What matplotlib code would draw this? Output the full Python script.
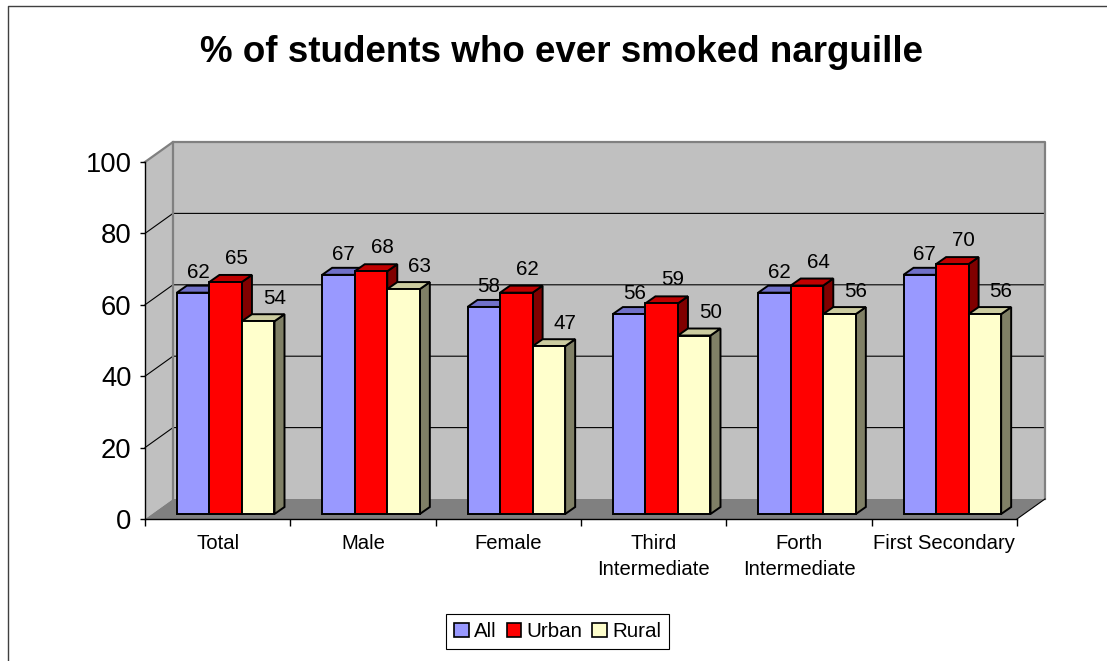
import matplotlib.pyplot as plt
from matplotlib.patches import Polygon, Patch, Rectangle
from matplotlib.lines import Line2D

plt.rcParams['font.family'] = ['Liberation Sans', 'DejaVu Sans']

# data
categories = ['Total', 'Male', 'Female', 'Third\nIntermediate',
              'Forth\nIntermediate', 'First Secondary']
series = ['All', 'Urban', 'Rural']
all_vals = [62, 67, 58, 56, 62, 67]
urban_vals = [65, 68, 62, 59, 64, 70]
rural_vals = [54, 63, 47, 50, 56, 56]
values = [all_vals, urban_vals, rural_vals]

front_c = ['#9999FF', '#FF0000', '#FFFFCC']
top_c = ['#7070C8', '#C00000', '#CCCCA0']
side_c = ['#4D4D80', '#800000', '#808066']

fig = plt.figure(figsize=(11.07, 6.61), dpi=100)
ax = fig.add_axes([145 / 1107, 1 - 519 / 661, 872 / 1107, 357 / 661])
n = len(categories)
ax.set_xlim(0, n)
ax.set_ylim(0, 100)

# pixels per data unit, used to turn the 3d depth into data offsets
ppx = 872 / n
ppy = 357 / 100


def depth(px, py):
    return px / ppx, py / ppy


DX, DY = depth(28, 20)   # walls
OX, OY = depth(8, 5)     # plane the bars stand in
BX, BY = depth(10, 7)    # bar depth

# walls and floor
ax.add_patch(Polygon([(DX, DY), (n + DX, DY), (n + DX, 100 + DY), (DX, 100 + DY)],
                     fc='#C0C0C0', ec='none', zorder=0.5, clip_on=False))
ax.add_patch(Polygon([(0, 0), (DX, DY), (DX, 100 + DY), (0, 100)],
                     fc='#C0C0C0', ec='none', zorder=0.5, clip_on=False))
ax.add_patch(Polygon([(0, 0), (n, 0), (n + DX, DY), (DX, DY)],
                     fc='#808080', ec='none', zorder=0.6, clip_on=False))
for v in [20, 40, 60, 80]:
    ax.plot([0, DX, n + DX], [v, v + DY, v + DY], color='black', lw=0.8,
            zorder=0.7, clip_on=False)
ax.plot([0, DX, n + DX, n + DX], [100, 100 + DY, 100 + DY, DY], color='#808080',
        lw=1.6, zorder=0.8, clip_on=False)
ax.plot([DX, DX], [DY, 100 + DY], color='#808080', lw=1.6, zorder=0.8, clip_on=False)
ax.plot([n, n + DX], [0, DY], color='black', lw=0.8, zorder=0.8, clip_on=False)

# bars
w = 0.224
lab_dx = [5, 11, 16]
lab_dy = [4, 7, 6]
for i in range(n):
    for j in range(3):
        v = values[j][i]
        x0 = i + 0.5 - 1.5 * w + j * w + OX
        b = OY
        z = 2 + i * 0.1 + j * 0.01
        ax.add_patch(Polygon([(x0 + w, b), (x0 + w + BX, b + BY), (x0 + w + BX, b + v + BY),
                              (x0 + w, b + v)], fc=side_c[j], ec='black', lw=1.4,
                             zorder=z, clip_on=False))
        ax.add_patch(Polygon([(x0, b + v), (x0 + w, b + v), (x0 + w + BX, b + v + BY),
                              (x0 + BX, b + v + BY)], fc=top_c[j], ec='black', lw=1.4,
                             zorder=z, clip_on=False))
        ax.add_patch(Rectangle((x0, b), w, v, fc=front_c[j], ec='black', lw=1.4,
                               zorder=z + 0.001, clip_on=False))
        ax.annotate(str(v), (x0 + w / 2, b + v + BY), xytext=(lab_dx[j] * 0.72, lab_dy[j] * 0.72),
                    textcoords='offset points', ha='center', va='bottom', fontsize=14.9,
                    zorder=5)

# axes
for s in ['top', 'right']:
    ax.spines[s].set_visible(False)
ax.spines['left'].set_linewidth(1.0)
ax.spines['bottom'].set_linewidth(1.0)
ax.spines['left'].set_zorder(3)
ax.spines['bottom'].set_zorder(3)
ax.set_facecolor('none')
ax.set_yticks(range(0, 101, 20))
ax.tick_params(axis='y', labelsize=19.7, length=3.6, width=1.0, pad=6)
ax.set_xticks([i + 0.5 for i in range(n)])
ax.set_xticklabels(categories, fontsize=14.6, linespacing=1.45)
ax.set_xticks(range(n + 1), minor=True)
ax.tick_params(axis='x', which='major', length=0, pad=11)
ax.tick_params(axis='x', which='minor', length=5, width=1.0)

fig.text(561 / 1107, 1 - 52 / 661, '% of students who ever smoked narguille',
         fontsize=26.5, fontweight='bold', ha='center', va='center')

handles = [Patch(fc=front_c[j], ec='black', lw=1.2, label=series[j]) for j in range(3)]
leg = fig.legend(handles=handles, loc='center', bbox_to_anchor=(557.5 / 1107, 1 - 631.5 / 661),
                 ncol=3, frameon=True, fancybox=False, edgecolor='black', fontsize=14.8,
                 handlelength=0.7, handleheight=0.7, handletextpad=0.25, columnspacing=0.5,
                 borderpad=0.4, borderaxespad=0, framealpha=1)
leg.get_frame().set_linewidth(0.8)

# outer chart border (top and left edges are visible)
fig.add_artist(Line2D([7.5 / 1107, 7.5 / 1107, 1], [0, 1 - 6 / 661, 1 - 6 / 661],
                      color='#404040', lw=1.0))

fig.savefig('out.png', dpi=100)
